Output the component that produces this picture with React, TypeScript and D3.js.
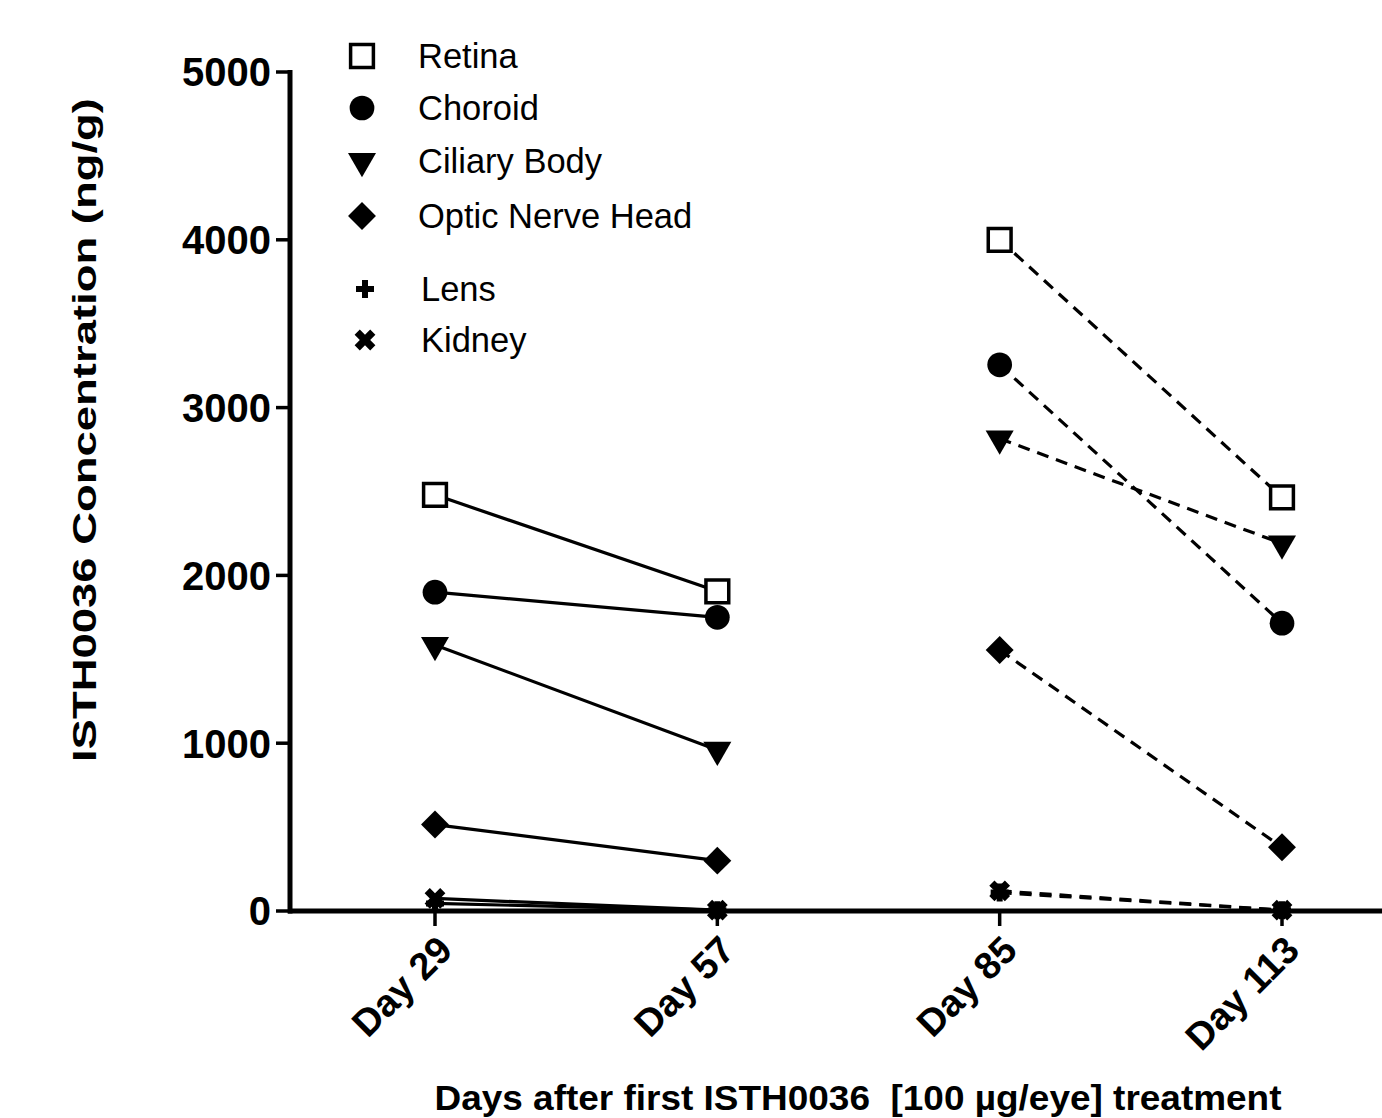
import React from "react";
import * as d3 from "d3";

const days = [29, 57, 85, 113];
const dayLabels = ["Day 29", "Day 57", "Day 85", "Day 113"];
const yTicks = [0, 1000, 2000, 3000, 4000, 5000];

const retina = [2480, 1905, 4000, 2465];
const choroid = [1900, 1750, 3255, 1715];
const ciliaryBody = [1585, 960, 2815, 2190];
const opticNerveHead = [515, 300, 1555, 380];
const lens = [45, 5, 110, 5];
const kidney = [75, 5, 120, 5];

const seriesNames = ["Retina", "Choroid", "Ciliary Body", "Optic Nerve Head", "Lens", "Kidney"];
const seriesValues = [retina, choroid, ciliaryBody, opticNerveHead, lens, kidney];

const width = 1382;
const height = 1118;
const font = "'Liberation Sans', Arial, sans-serif";

// marker for each series: path, rotation, fill, stroke
const markers = [
  { path: d3.symbol(d3.symbolSquare, 520)(), rot: 0, fill: "white", stroke: 3.5 },
  { path: d3.symbol(d3.symbolCircle, 480)(), rot: 0, fill: "black", stroke: 0 },
  { path: d3.symbol(d3.symbolTriangle, 340)(), rot: 180, fill: "black", stroke: 0 },
  { path: d3.symbol(d3.symbolSquare, 390)(), rot: 45, fill: "black", stroke: 0 },
  { path: d3.symbol(d3.symbolCross, 180)(), rot: 0, fill: "black", stroke: 0 },
  { path: d3.symbol(d3.symbolCross, 270)(), rot: 45, fill: "black", stroke: 0 },
];

const legendY = [56, 108, 161, 216, 289, 340];

const App = () => {
  const x = d3.scaleLinear().domain([29, 113]).range([435, 1282]);
  const y = d3.scaleLinear().domain([0, 5000]).range([911, 72]);
  const axisX = 290;

  const line = d3
    .line<number>()
    .x((_, i) => x(days[i]))
    .y((d) => y(d));

  return (
    <svg
      width={width}
      height={height}
      style={{ position: "absolute", left: 0, top: 0, background: "white" }}
      fontFamily={font}
    >
      {/* y axis */}
      <line x1={axisX} x2={axisX} y1={y(5000) - 2} y2={y(0) + 2.5} stroke="black" strokeWidth={5} />
      {yTicks.map((t) => (
        <g key={t}>
          <line x1={axisX - 14} x2={axisX} y1={y(t)} y2={y(t)} stroke="black" strokeWidth={3.5} />
          <text
            x={271}
            y={y(t)}
            dy="0.36em"
            textAnchor="end"
            fontSize={40}
            fontWeight="bold"
          >
            {t}
          </text>
        </g>
      ))}
      <text
        transform={`translate(96,${430}) rotate(-90)`}
        textAnchor="middle"
        fontSize={33}
        fontWeight="bold"
        textLength={664}
        lengthAdjust="spacingAndGlyphs"
      >
        ISTH0036 Concentration (ng/g)
      </text>

      {/* x axis */}
      <line x1={axisX - 2} x2={width} y1={y(0)} y2={y(0)} stroke="black" strokeWidth={5} />
      {days.map((d, i) => (
        <g key={d}>
          <line x1={x(d)} x2={x(d)} y1={y(0)} y2={y(0) + 15} stroke="black" strokeWidth={3.5} />
          <text
            transform={`translate(${x(d) + 10},${y(0) + 32}) rotate(-45)`}
            textAnchor="end"
            dy="0.35em"
            fontSize={38}
            fontWeight="bold"
          >
            {dayLabels[i]}
          </text>
        </g>
      ))}
      <text
        x={858}
        y={1110}
        textAnchor="middle"
        fontSize={35}
        fontWeight="bold"
        textLength={847}
        lengthAdjust="spacingAndGlyphs"
        style={{ whiteSpace: "pre" }}
      >
        Days after first ISTH0036  [100 µg/eye] treatment
      </text>

      {/* lines */}
      {seriesValues.map((vals, s) => (
        <g key={seriesNames[s]}>
          <path
            d={line.x((_, i) => x(days[i]))(vals.slice(0, 2)) ?? ""}
            fill="none"
            stroke="black"
            strokeWidth={3.2}
          />
          <path
            d={line.x((_, i) => x(days[i + 2]))(vals.slice(2, 4)) ?? ""}
            fill="none"
            stroke="black"
            strokeWidth={3.2}
            strokeDasharray="12 8"
          />
        </g>
      ))}

      {/* markers */}
      {seriesValues.map((vals, s) => (
        <g key={"m" + s}>
          {vals.map((v, i) => (
            <path
              key={i}
              d={markers[s].path ?? ""}
              transform={`translate(${x(days[i])},${y(v)}) rotate(${markers[s].rot})`}
              fill={markers[s].fill}
              stroke="black"
              strokeWidth={markers[s].stroke}
            />
          ))}
        </g>
      ))}

      {/* legend */}
      {seriesNames.map((name, s) => (
        <g key={"l" + s}>
          <path
            d={markers[s].path ?? ""}
            transform={`translate(${s >= 4 ? 365 : 362},${legendY[s]}) rotate(${markers[s].rot})`}
            fill={markers[s].fill}
            stroke="black"
            strokeWidth={markers[s].stroke}
          />
          <text x={s >= 4 ? 421 : 418} y={legendY[s]} dy="0.36em" fontSize={34.5}>
            {name}
          </text>
        </g>
      ))}
    </svg>
  );
};

export default App;
